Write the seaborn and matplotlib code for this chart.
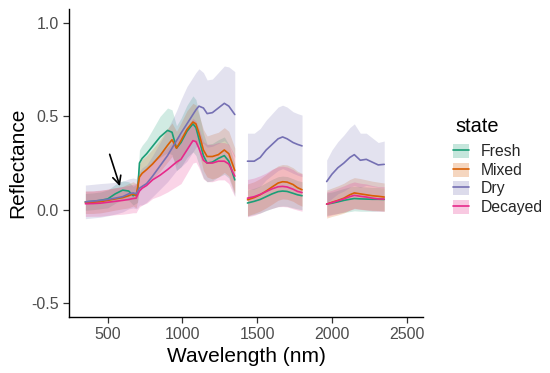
import numpy as np
import pandas as pd
import matplotlib
matplotlib.use("Agg")
import matplotlib.pyplot as plt
import seaborn as sns
from matplotlib.patches import Patch
from matplotlib.lines import Line2D

# ---------------- data ----------------
states = ["Fresh", "Mixed", "Dry", "Decayed"]
colors = ["#1B9E77", "#D95F02", "#7570B3", "#E7298A"]

# segment 1 (VIS-NIR)
wl_seg1 = [350, 400, 450, 500, 550, 600, 640, 670, 690, 700, 712, 730, 760, 800, 850,
           900, 930, 960, 990, 1030, 1070, 1090, 1110, 1140, 1165, 1200, 1240, 1280, 1310, 1350]
fresh_seg1 = [0.042, 0.045, 0.05, 0.058, 0.085, 0.105, 0.10, 0.075, 0.085, 0.10, 0.25, 0.275, 0.30, 0.34, 0.39,
              0.425, 0.415, 0.33, 0.36, 0.42, 0.46, 0.44, 0.38, 0.29, 0.25, 0.255, 0.275, 0.29, 0.26, 0.16]
mixed_seg1 = [0.040, 0.040, 0.043, 0.05, 0.058, 0.065, 0.075, 0.085, 0.075, 0.12, 0.175, 0.195, 0.215, 0.245, 0.29,
              0.345, 0.375, 0.33, 0.37, 0.43, 0.47, 0.46, 0.41, 0.32, 0.285, 0.285, 0.295, 0.32, 0.30, 0.21]
dry_seg1 = [0.042, 0.046, 0.05, 0.055, 0.062, 0.07, 0.085, 0.09, 0.085, 0.10, 0.115, 0.125, 0.14, 0.18, 0.235,
            0.29, 0.33, 0.37, 0.41, 0.46, 0.51, 0.535, 0.555, 0.545, 0.515, 0.52, 0.545, 0.57, 0.555, 0.51]
decayed_seg1 = [0.032, 0.033, 0.035, 0.04, 0.045, 0.05, 0.055, 0.06, 0.062, 0.08, 0.10, 0.115, 0.13, 0.16, 0.185,
                0.215, 0.235, 0.255, 0.27, 0.32, 0.37, 0.365, 0.33, 0.265, 0.25, 0.25, 0.26, 0.26, 0.245, 0.18]
fresh_sd1 = [0.045, 0.045, 0.045, 0.048, 0.05, 0.05, 0.05, 0.05, 0.05, 0.06, 0.07, 0.07, 0.075, 0.09, 0.11,
             0.12, 0.12, 0.12, 0.13, 0.14, 0.15, 0.15, 0.14, 0.12, 0.10, 0.10, 0.10, 0.10, 0.09, 0.085]
mixed_sd1 = [0.06, 0.06, 0.06, 0.06, 0.06, 0.06, 0.065, 0.065, 0.065, 0.07, 0.07, 0.075, 0.075, 0.08, 0.085,
             0.09, 0.09, 0.09, 0.095, 0.10, 0.10, 0.10, 0.10, 0.11, 0.11, 0.12, 0.12, 0.12, 0.12, 0.12]
dry_sd1 = [0.09, 0.09, 0.09, 0.088, 0.085, 0.082, 0.08, 0.08, 0.08, 0.09, 0.09, 0.10, 0.10, 0.11, 0.125,
           0.14, 0.15, 0.16, 0.18, 0.20, 0.20, 0.20, 0.20, 0.19, 0.18, 0.18, 0.19, 0.20, 0.21, 0.23]
decayed_sd1 = [0.068, 0.068, 0.07, 0.07, 0.072, 0.074, 0.075, 0.076, 0.078, 0.08, 0.085, 0.09, 0.095, 0.10, 0.11,
               0.12, 0.125, 0.13, 0.13, 0.125, 0.12, 0.11, 0.105, 0.10, 0.10, 0.10, 0.10, 0.10, 0.105, 0.11]

# segment 2 (SWIR-1)
wl_seg2 = [1435, 1480, 1520, 1560, 1600, 1640, 1670, 1700, 1740, 1770, 1800]
fresh_seg2 = [0.036, 0.045, 0.055, 0.07, 0.085, 0.097, 0.10, 0.098, 0.088, 0.08, 0.075]
mixed_seg2 = [0.053, 0.065, 0.08, 0.10, 0.122, 0.143, 0.15, 0.148, 0.135, 0.118, 0.107]
dry_seg2 = [0.26, 0.26, 0.28, 0.32, 0.35, 0.38, 0.39, 0.38, 0.36, 0.35, 0.342]
decayed_seg2 = [0.062, 0.07, 0.082, 0.097, 0.112, 0.123, 0.125, 0.122, 0.11, 0.098, 0.092]
fresh_sd2 = [0.07, 0.07, 0.072, 0.075, 0.078, 0.08, 0.08, 0.08, 0.078, 0.076, 0.075]
mixed_sd2 = [0.085, 0.085, 0.087, 0.09, 0.092, 0.092, 0.092, 0.092, 0.09, 0.088, 0.088]
dry_sd2 = [0.15, 0.15, 0.155, 0.16, 0.165, 0.17, 0.17, 0.17, 0.165, 0.165, 0.165]
decayed_sd2 = [0.10, 0.10, 0.10, 0.10, 0.105, 0.107, 0.108, 0.107, 0.105, 0.10, 0.10]

# segment 3 (SWIR-2)
wl_seg3 = [1965, 2000, 2040, 2080, 2120, 2150, 2190, 2230, 2270, 2310, 2350]
fresh_seg3 = [0.03, 0.035, 0.042, 0.05, 0.056, 0.06, 0.058, 0.057, 0.056, 0.056, 0.055]
mixed_seg3 = [0.03, 0.04, 0.05, 0.062, 0.08, 0.09, 0.085, 0.08, 0.075, 0.072, 0.068]
dry_seg3 = [0.151, 0.19, 0.225, 0.25, 0.28, 0.295, 0.265, 0.27, 0.255, 0.24, 0.243]
decayed_seg3 = [0.03, 0.038, 0.048, 0.058, 0.07, 0.077, 0.072, 0.068, 0.062, 0.058, 0.057]
fresh_sd3 = [0.06, 0.06, 0.062, 0.064, 0.066, 0.066, 0.066, 0.065, 0.064, 0.063, 0.062]
mixed_sd3 = [0.075, 0.076, 0.078, 0.08, 0.082, 0.082, 0.082, 0.08, 0.078, 0.076, 0.075]
dry_sd3 = [0.115, 0.13, 0.14, 0.15, 0.16, 0.165, 0.145, 0.14, 0.13, 0.12, 0.125]
decayed_sd3 = [0.066, 0.066, 0.068, 0.07, 0.072, 0.072, 0.07, 0.07, 0.068, 0.066, 0.066]

x_ticks = [500, 1000, 1500, 2000, 2500]
y_ticks = [-0.5, 0.0, 0.5, 1.0]
arrow_start = (507, 0.311)
arrow_end = (587, 0.112)

# ---------------- tidy table ----------------
segments = {
    1: (wl_seg1, [fresh_seg1, mixed_seg1, dry_seg1, decayed_seg1],
        [fresh_sd1, mixed_sd1, dry_sd1, decayed_sd1]),
    2: (wl_seg2, [fresh_seg2, mixed_seg2, dry_seg2, decayed_seg2],
        [fresh_sd2, mixed_sd2, dry_sd2, decayed_sd2]),
    3: (wl_seg3, [fresh_seg3, mixed_seg3, dry_seg3, decayed_seg3],
        [fresh_sd3, mixed_sd3, dry_sd3, decayed_sd3]),
}
frames = []
for seg, (wl, means, sds) in segments.items():
    for st, m, s in zip(states, means, sds):
        m = np.asarray(m); s = np.asarray(s)
        frames.append(pd.DataFrame({"wavelength": wl, "reflectance": m,
                                    "lower": m - s, "upper": m + s,
                                    "state": st, "segment": seg}))
df = pd.concat(frames, ignore_index=True)

# ---------------- plot ----------------
sns.set_style("ticks")
plt.rcParams["font.family"] = ["Liberation Sans", "DejaVu Sans"]

palette = dict(zip(states, colors))
fig = plt.figure(figsize=(5.5, 3.73), dpi=100)
ax = fig.add_axes([0.126, 0.150, 0.6425, 0.8257])

for st in states:
    for seg in segments:
        sub = df[(df.state == st) & (df.segment == seg)]
        ax.fill_between(sub.wavelength, sub.lower, sub.upper,
                        color=palette[st], alpha=0.2, lw=0)

sns.lineplot(data=df, x="wavelength", y="reflectance", hue="state",
             hue_order=states, units="segment", estimator=None,
             palette=palette, lw=1.2, legend=False, ax=ax, sort=True)

ax.annotate("", xy=arrow_end, xytext=arrow_start,
            arrowprops=dict(arrowstyle="->", color="black", lw=1.2,
                            mutation_scale=15))

ax.set_xlim(350 - 0.05 * 2150, 2500 + 0.05 * 2150)
ax.set_ylim(-0.5 - 0.075, 1.0 + 0.075)
ax.set_xticks(x_ticks)
ax.set_yticks(y_ticks)
ax.set_yticklabels([f"{v:.1f}" for v in y_ticks])
ax.tick_params(axis="both", labelsize=11.5, labelcolor="#4D4D4D",
               color="#333333", length=4, width=0.9, pad=3.5)
for side in ["top", "right"]:
    ax.spines[side].set_visible(False)
for side in ["left", "bottom"]:
    ax.spines[side].set_color("black")
    ax.spines[side].set_linewidth(1.0)

ax.set_xlabel("Wavelength (nm)", fontsize=15, color="black")
ax.set_ylabel("Reflectance", fontsize=15, color="black")
ax.xaxis.set_label_coords(0.5, -0.098)
ax.yaxis.set_label_coords(-0.12, 0.5)

handles = [(Patch(facecolor=c, alpha=0.25, edgecolor="none"),
            Line2D([], [], color=c, lw=1.2)) for c in colors]
leg = fig.legend(handles, states, loc="upper left",
                 bbox_to_anchor=(453 / 550, 1 - 144 / 373),
                 frameon=False, fontsize=11.3,
                 handlelength=1.05, handleheight=1.0, labelspacing=0.2,
                 handletextpad=0.7, borderpad=0, borderaxespad=0)
fig.text(455 / 550, 1 - 131.5 / 373, "state", fontsize=14.4,
         ha="left", va="baseline", color="black")

fig.savefig("out.png", dpi=100)
